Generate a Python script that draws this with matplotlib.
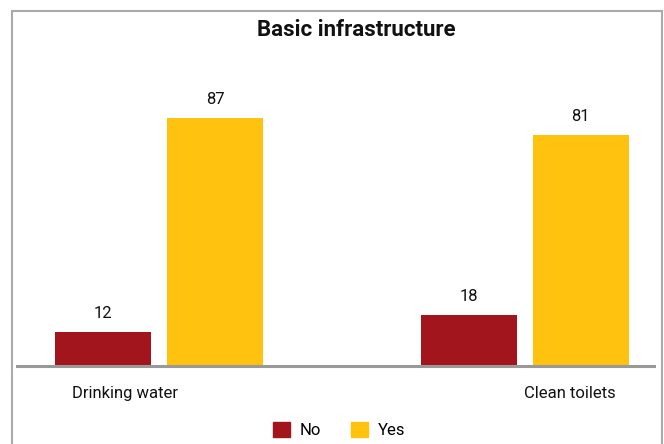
import matplotlib
matplotlib.use("Agg")
import matplotlib.pyplot as plt
from matplotlib.patches import Rectangle, Patch

categories = ["Drinking water", "Clean toilets"]
series_names = ["No", "Yes"]
no_values = [12, 18]
yes_values = [87, 81]
title = "Basic infrastructure"

RED = "#A3151C"
YELLOW = "#FEC20F"
W, H = 664, 444

plt.rcParams["font.family"] = ["Roboto", "DejaVu Sans"]

fig = plt.figure(figsize=(W / 100, H / 100), dpi=100)

def fx(px):
    return px / W

def fy(py):
    return 1 - py / H

# axes: left 17px, right 654px, baseline 366px, top 81px
ax = fig.add_axes([fx(17), fy(366), fx(654) - fx(17), fy(81) - fy(366)])
ax.set_xlim(-0.3885, 1.354)
ax.set_ylim(0, 100)

bw = 0.2627
off = 0.1532
xs = list(range(len(categories)))
b1 = ax.bar([x - off for x in xs], no_values, width=bw, color=RED, label=series_names[0], zorder=2)
b2 = ax.bar([x + off for x in xs], yes_values, width=bw, color=YELLOW, label=series_names[1], zorder=2)

for bars in (b1, b2):
    for r in bars:
        ax.annotate(f"{r.get_height():g}", (r.get_x() + r.get_width() / 2, r.get_height()),
                    xytext=(0, 8), textcoords="offset points", ha="center", va="bottom",
                    fontsize=12, color="#111111")

for s in ax.spines.values():
    s.set_visible(False)
ax.axhline(0, color="#999999", lw=2.2, zorder=3, clip_on=False)
ax.set_xticks([])
ax.set_yticks([])

label_offsets = [-0.093, 0.1245]
for x, lab, o in zip(xs, categories, label_offsets):
    ax.text(x + o, -9.5, lab, ha="center", va="center", fontsize=12, color="#111111")

fig.text(fx(356), fy(30), title, ha="center", va="center", fontsize=16, fontweight="bold", color="#111111")

leg = fig.legend(handles=[Patch(color=RED, label=series_names[0]), Patch(color=YELLOW, label=series_names[1])],
                 loc="center", bbox_to_anchor=(fx(339), fy(430)), ncol=2, frameon=False,
                 fontsize=12, handlelength=1.0, handleheight=1.0, columnspacing=1.8, handletextpad=0.6)

fig.patches.append(Rectangle((fx(12), -0.05), fx(662) - fx(12), fy(11) + 0.05,
                             transform=fig.transFigure, fill=False, edgecolor="#AAAAAA", lw=1.5))

fig.savefig("out.png", dpi=100)
